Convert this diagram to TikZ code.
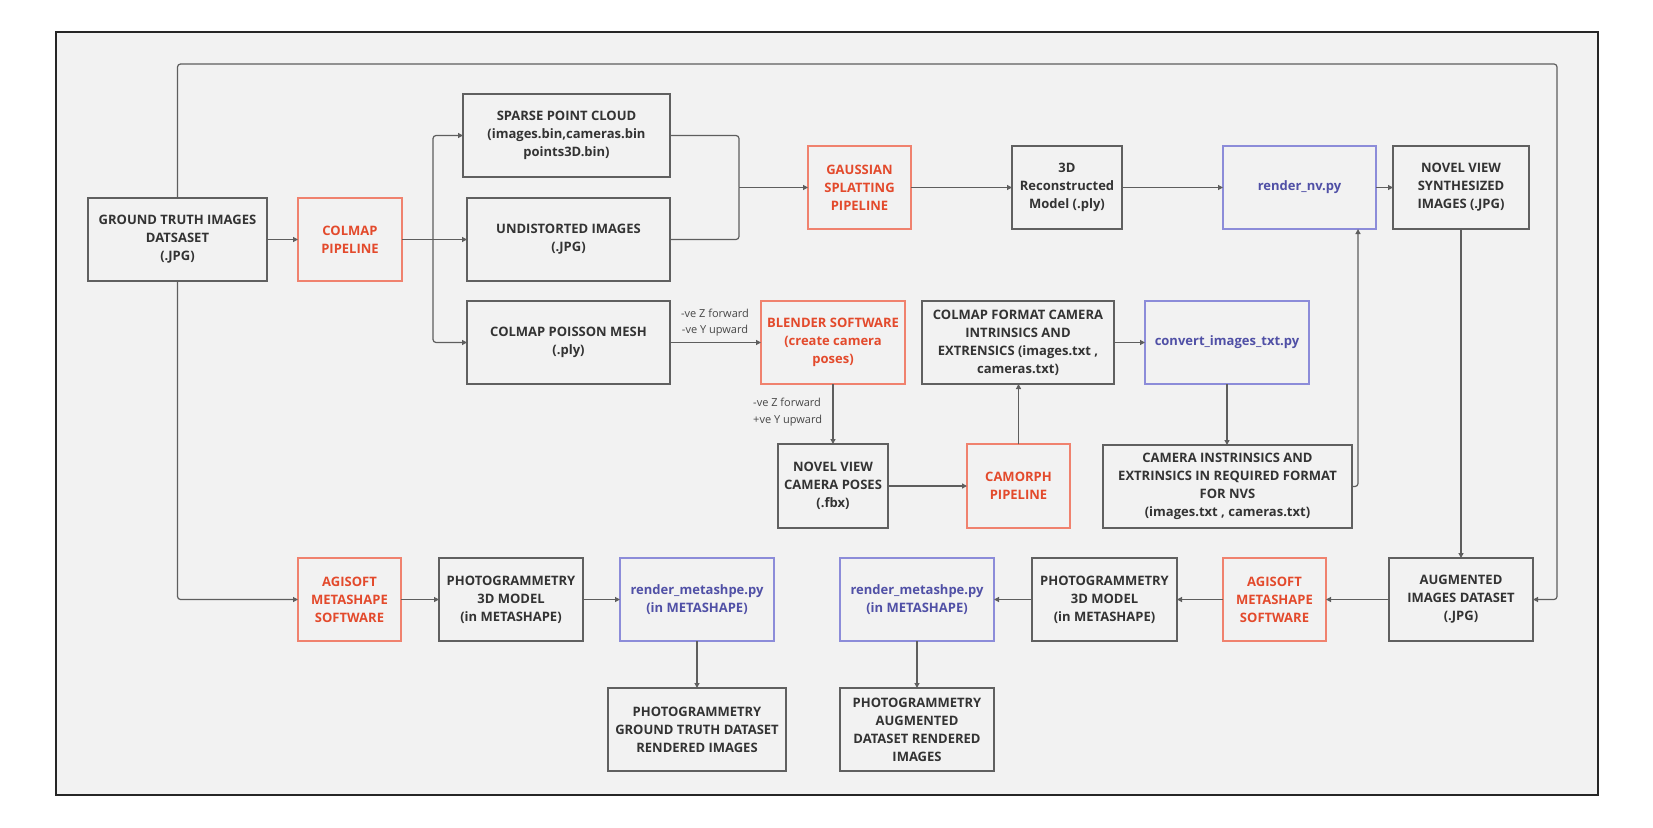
\documentclass[tikz,border=0pt]{standalone}
\usepackage{fontspec}
\setmainfont{Open Sans}
\usetikzlibrary{arrows.meta,calc}
\definecolor{textc}{HTML}{333333}
\definecolor{boxc}{HTML}{606060}
\definecolor{redline}{HTML}{F0826E}
\definecolor{redtext}{HTML}{E34A2C}
\definecolor{blueline}{HTML}{8C8CD9}
\definecolor{bluetext}{HTML}{5050A6}
\definecolor{linec}{HTML}{5E5E5E}
\definecolor{bgc}{HTML}{F2F2F2}
\tikzset{
  base/.style={rectangle, draw, line width=1.4pt, outer sep=0pt, inner sep=2pt, align=center,
    font=\fontsize{13}{18}\selectfont\bfseries, minimum height=83pt},
  gbox/.style={base, draw=boxc, text=textc},
  rbox/.style={base, draw=redline, text=redtext},
  bbox/.style={base, draw=blueline, text=bluetext},
  conn/.style={draw=linec, line width=1.2pt, rounded corners=3pt},
  arr/.style={conn, -{Triangle[length=5pt,width=5pt]}},
  lbl/.style={text=textc!90, font=\fontsize{11}{16.5}\selectfont, inner sep=0pt}
}
\begin{document}
\begin{tikzpicture}[x=1pt,y=-1pt]
\useasboundingbox (0,0) rectangle (1653,827);
\fill[white] (0,0) rectangle (1653,827);
\draw[line width=2.4pt, draw=black!85, fill=bgc] (56,32) rectangle (1598,795);

% nodes
\node[gbox, minimum width=179pt] (gt) at (177.5,239.5) {GROUND TRUTH IMAGES\\DATSASET\\(.JPG)};
\node[rbox, minimum width=104pt] (colmap) at (350,239.5) {COLMAP\\PIPELINE};
\node[gbox, minimum width=207pt] (sparse) at (566.5,135.5) {SPARSE POINT CLOUD\\(images.bin,cameras.bin\\points3D.bin)};
\node[gbox, minimum width=203pt] (undist) at (568.5,239.5) {UNDISTORTED IMAGES\\(.JPG)};
\node[gbox, minimum width=203pt] (poisson) at (568.5,342.5) {COLMAP POISSON MESH\\(.ply)};
\node[rbox, minimum width=103pt] (gauss) at (859.5,187.5) {GAUSSIAN\\SPLATTING\\PIPELINE};
\node[gbox, minimum width=110pt] (recon) at (1067,187.5) {3D\\Reconstructed\\Model (.ply)};
\node[bbox, minimum width=153pt] (rnv) at (1299.5,187.5) {render\_nv.py};
\node[gbox, minimum width=136pt] (nvs) at (1461,187.5) {NOVEL VIEW\\SYNTHESIZED\\IMAGES (.JPG)};
\node[rbox, minimum width=144pt] (blender) at (833,342.5) {BLENDER SOFTWARE\\(create camera\\poses)};
\node[gbox, minimum width=192pt] (cfmt) at (1018,342.5) {COLMAP FORMAT CAMERA\\INTRINSICS AND\\EXTRENSICS (images.txt ,\\cameras.txt)};
\node[bbox, minimum width=164pt] (conv) at (1227,342.5) {convert\_images\_txt.py};
\node[gbox, minimum width=110pt, minimum height=84pt] (ncp) at (833,486) {NOVEL VIEW\\CAMERA POSES\\(.fbx)};
\node[rbox, minimum width=103pt, minimum height=84pt] (camorph) at (1018.5,486) {CAMORPH\\PIPELINE};
\node[gbox, minimum width=249pt] (cint) at (1227.5,486.5) {CAMERA INSTRINSICS AND\\EXTRINSICS IN REQUIRED FORMAT\\FOR NVS\\(images.txt , cameras.txt)};
\node[rbox, minimum width=103pt] (agl) at (349.5,599.5) {AGISOFT\\METASHAPE\\SOFTWARE};
\node[gbox, minimum width=144pt] (pgl) at (511,599.5) {PHOTOGRAMMETRY\\3D MODEL\\(in METASHAPE)};
\node[bbox, minimum width=154pt] (rml) at (697,599.5) {render\_metashpe.py\\(in METASHAPE)};
\node[gbox, minimum width=178pt] (gtr) at (697,729.5) {PHOTOGRAMMETRY\\GROUND TRUTH DATASET\\RENDERED IMAGES};
\node[bbox, minimum width=154pt] (rmr) at (917,599.5) {render\_metashpe.py\\(in METASHAPE)};
\node[gbox, minimum width=154pt] (augr) at (917,729.5) {PHOTOGRAMMETRY\\AUGMENTED\\DATASET RENDERED\\IMAGES};
\node[gbox, minimum width=145pt] (pgr) at (1104.5,599.5) {PHOTOGRAMMETRY\\3D MODEL\\(in METASHAPE)};
\node[rbox, minimum width=103pt] (agr) at (1274.5,599.5) {AGISOFT\\METASHAPE\\SOFTWARE};
\node[gbox, minimum width=144pt] (aug) at (1461,599.5) {AUGMENTED\\IMAGES DATASET\\(.JPG)};

% labels
\node[lbl, align=center] (l1) at (715,322.5) {-ve Z forward\\-ve Y upward};
\node[lbl, align=left, anchor=west] (l2) at (753,412) {-ve Z forward\\+ve Y upward};

% coordinates
\coordinate (br) at (433,239.5);
\coordinate (mg) at (739,187.5);
\coordinate (tr) at (1557,64);

% connectors
\draw[arr] (gt) -- (colmap);
\draw[conn] (colmap.east) -- (br);
\draw[arr] (br) |- (sparse.west);
\draw[arr] (br) -- (undist.west);
\draw[arr] (br) |- (poisson.west);
\draw[conn] (sparse.east) -| (mg);
\draw[conn] (undist.east) -| (mg);
\draw[arr] (mg) -- (gauss.west);
\draw[arr] (gauss) -- (recon);
\draw[arr] (recon) -- (rnv);
\draw[arr] (rnv) -- (nvs);
\draw[arr] (nvs) -- (aug);
\draw[arr] (poisson) -- (blender);
\draw[arr] (blender) -- (ncp);
\draw[arr] (ncp) -- (camorph);
\draw[arr] (camorph.north) -- (camorph.north |- cfmt.south);
\draw[arr] (cfmt) -- (conv);
\draw[arr] (conv) -- (conv |- cint.north);
\draw[arr] (cint.east) -| ([xshift=-18pt]rnv.south east);
\draw[arr] (gt.north) |- (tr) |- (aug.east);
\draw[arr] (gt.south) |- (agl.west);
\draw[arr] (agl) -- (pgl);
\draw[arr] (pgl) -- (rml);
\draw[arr] (rml) -- (gtr);
\draw[arr] (aug) -- (agr);
\draw[arr] (agr) -- (pgr);
\draw[arr] (pgr) -- (rmr);
\draw[arr] (rmr) -- (augr);
\end{tikzpicture}
\end{document}
